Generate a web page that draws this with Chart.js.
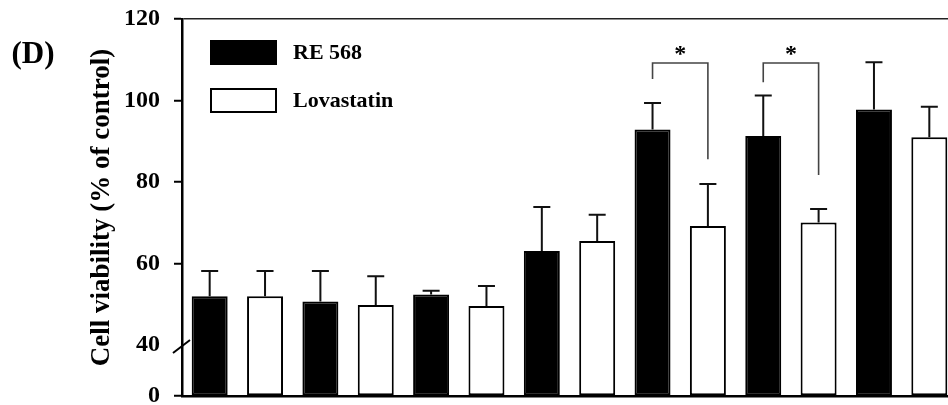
<!DOCTYPE html>
<html>
<head>
<meta charset="utf-8">
<script src="https://cdn.jsdelivr.net/npm/chart.js@4.4.1/dist/chart.umd.min.js"></script>
<style>
  body { margin: 0; background: #fff; overflow: hidden; }
  #wrap { width: 960px; height: 405px; }
</style>
</head>
<body>
<div id="wrap"><canvas id="viabilityChart" width="960" height="405"></canvas></div>
<script>
// values (% of control)
const groups = ['1', '2', '3', '4', '5', '6', '7'];
const re568 = [52.0, 50.7, 52.4, 63.1, 92.9, 91.3, 97.8];
const re568Err = [58.2, 58.2, 53.3, 73.9, 99.4, 101.2, 109.4];
const lovastatin = [52.0, 49.8, 49.6, 65.5, 69.2, 70.1, 91.0];
const lovastatinErr = [58.2, 56.9, 54.5, 72.0, 79.5, 73.4, 98.5];
const yTicks = [40, 60, 80, 100, 120];
const yBreakMin = 27.5; // broken axis, bottom labelled 0
// significance brackets: group index, left end, top, right end
const sigGroup = [4, 5];
const sigLeft = [105.3, 104.5];
const sigTop = [109.2, 109.2];
const sigRight = [85.6, 81.7];

const serif = '"Liberation Serif", "Times New Roman", serif';

const extras = {
    id: 'extras',
    afterDatasetsDraw(chart) {
        const ctx = chart.ctx;
        const y = chart.scales.y;
        const area = chart.chartArea;
        const errs = [re568Err, lovastatinErr];
        ctx.save();
        // error bars (upper only)
        ctx.strokeStyle = '#111';
        ctx.lineWidth = 2;
        errs.forEach((err, d) => {
            chart.getDatasetMeta(d).data.forEach((bar, i) => {
                const top = y.getPixelForValue(err[i]);
                ctx.beginPath();
                ctx.moveTo(bar.x, bar.y);
                ctx.lineTo(bar.x, top);
                ctx.moveTo(bar.x - 8.5, top);
                ctx.lineTo(bar.x + 8.5, top);
                ctx.stroke();
            });
        });
        // significance brackets
        sigGroup.forEach((g, k) => {
            const x1 = chart.getDatasetMeta(0).data[g].x;
            const x2 = chart.getDatasetMeta(1).data[g].x;
            const yt = y.getPixelForValue(sigTop[k]);
            ctx.strokeStyle = '#444';
            ctx.lineWidth = 1.6;
            ctx.beginPath();
            ctx.moveTo(x1, y.getPixelForValue(sigLeft[k]));
            ctx.lineTo(x1, yt);
            ctx.lineTo(x2, yt);
            ctx.lineTo(x2, y.getPixelForValue(sigRight[k]));
            ctx.stroke();
            ctx.fillStyle = '#000';
            ctx.font = 'bold 24px ' + serif;
            ctx.textAlign = 'center';
            ctx.textBaseline = 'middle';
            ctx.fillText('*', (x1 + x2) / 2, yt - 8);
        });
        // axis break mark
        const by = y.getPixelForValue(40);
        ctx.strokeStyle = '#000';
        ctx.lineWidth = 2;
        ctx.beginPath();
        ctx.moveTo(area.left - 9, by + 8);
        ctx.lineTo(area.left + 8, by - 5);
        ctx.stroke();
        // legend
        ctx.font = 'bold 22px ' + serif;
        ctx.textAlign = 'left';
        ctx.textBaseline = 'middle';
        chart.data.datasets.forEach((ds, d) => {
            const bx = area.left + 29;
            const byy = area.top + 22 + d * 48;
            ctx.fillStyle = ds.backgroundColor;
            ctx.fillRect(bx, byy, 65, 23);
            ctx.strokeStyle = '#000';
            ctx.lineWidth = 2;
            ctx.strokeRect(bx, byy, 65, 23);
            ctx.fillStyle = '#000';
            ctx.fillText(ds.label, bx + 82, byy + 12);
        });
        // panel letter
        ctx.font = 'bold 31px ' + serif;
        ctx.textAlign = 'center';
        ctx.fillText('(D)', 33, 55);
        ctx.restore();
    }
};

const chart = new Chart(document.getElementById('viabilityChart'), {
    type: 'bar',
    data: {
        labels: groups,
        datasets: [{
            label: 'RE 568',
            data: re568,
            backgroundColor: '#000',
            borderColor: '#000',
            borderWidth: 2,
            borderSkipped: false
        }, {
            label: 'Lovastatin',
            data: lovastatin,
            backgroundColor: '#fff',
            borderColor: '#000',
            borderWidth: 2,
            borderSkipped: false
        }]
    },
    options: {
        responsive: false,
        animation: false,
        layout: { autoPadding: false, padding: { top: 19, bottom: 9, right: 3, left: 0 } },
        datasets: { bar: { categoryPercentage: 1.0, barPercentage: 0.65, base: yBreakMin } },
        plugins: { legend: { display: false }, tooltip: { enabled: false } },
        scales: {
            x: {
                ticks: { display: false },
                grid: { display: false },
                border: { color: '#000', width: 2.5 },
                afterFit: s => { s.height = 0; s.paddingLeft = 0; s.paddingRight = 0; }
            },
            y: {
                min: yBreakMin,
                max: 120,
                afterBuildTicks: s => {
                    s.ticks = [yBreakMin].concat(yTicks).map(v => ({ value: v }));
                },
                afterFit: s => { s.width = 182; s.paddingTop = 0; s.paddingBottom = 0; },
                ticks: {
                    color: '#000',
                    padding: 14,
                    font: { family: serif, size: 24, weight: 'bold' },
                    callback: v => v === yBreakMin ? '0' : v
                },
                grid: {
                    tickLength: 8,
                    lineWidth: 1.5,
                    tickWidth: 2,
                    color: c => c.tick && c.tick.value === 120 ? '#222' : 'rgba(0,0,0,0)',
                    tickColor: c => c.tick && c.tick.value === 40 ? 'rgba(0,0,0,0)' : '#000'
                },
                border: { color: '#000', width: 2.5 },
                title: {
                    display: true,
                    text: 'Cell viability (% of control)',
                    color: '#000',
                    font: { family: serif, size: 27, weight: 'bold' },
                    padding: { top: 86, bottom: 0 }
                }
            }
        }
    },
    plugins: [extras]
});
</script>
</body>
</html>
